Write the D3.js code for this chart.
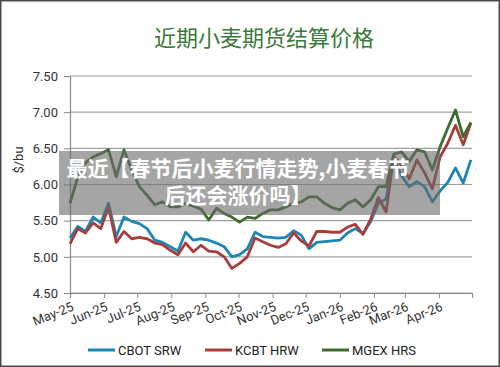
<!DOCTYPE html>
<html>
<head>
<meta charset="utf-8">
<script src="https://cdn.jsdelivr.net/npm/d3@7"></script>
<style>
  html, body { margin: 0; padding: 0; background: #fff; }
  svg { display: block; }
</style>
</head>
<body>
<svg id="chart" width="500" height="367"></svg>
<script>
// ---- data ----
const title = "近期小麦期货结算价格";
const yLabel = "$/bu";
const startDate = "2025-05-01"; // first weekly observation
const monthLabels = ["May-25","Jun-25","Jul-25","Aug-25","Sep-25","Oct-25","Nov-25","Dec-25","Jan-26","Feb-26","Mar-26","Apr-26"];
const yTicks = [4.5, 5.0, 5.5, 6.0, 6.5, 7.0, 7.5];
const seriesNames = ["CBOT SRW", "KCBT HRW", "MGEX HRS"];
const cbotSRW = [5.26,5.42,5.35,5.55,5.47,5.74,5.28,5.55,5.49,5.46,5.39,5.23,5.20,5.14,5.08,5.34,5.23,5.25,5.23,5.19,5.14,5.00,5.03,5.11,5.34,5.28,5.27,5.26,5.27,5.36,5.30,5.11,5.20,5.21,5.22,5.23,5.33,5.39,5.32,5.49,5.74,5.80,6.37,6.12,5.97,6.04,5.97,5.76,5.91,6.03,6.23,6.02,6.34];
const kcbtHRW = [5.18,5.39,5.33,5.47,5.39,5.69,5.20,5.35,5.25,5.27,5.25,5.19,5.17,5.09,5.03,5.19,5.07,5.16,5.08,5.07,5.00,4.84,4.91,5.00,5.26,5.21,5.16,5.13,5.18,5.33,5.22,5.15,5.35,5.35,5.34,5.34,5.41,5.45,5.31,5.52,5.82,5.62,6.39,6.27,6.08,6.34,6.16,5.94,6.38,6.57,6.82,6.55,6.85];
const mgexHRS = [5.74,6.10,6.30,6.38,6.43,6.48,6.11,6.48,6.20,5.97,5.85,5.72,5.76,5.69,5.69,5.74,5.70,5.66,5.51,5.67,5.60,5.55,5.48,5.55,5.53,5.60,5.65,5.65,5.69,5.74,5.76,5.83,5.83,5.74,5.68,5.65,5.74,5.79,5.69,5.79,5.97,5.97,6.42,6.45,6.32,6.48,6.45,6.20,6.52,6.78,7.03,6.66,6.86];
const overlayLines = ["最近【春节后小麦行情走势,小麦春节", "后还会涨价吗】"];

const colors = ["#1c87b4", "#a63f3c", "#3f6b2e"];

// ---- chart ----
const svg = d3.select("#chart");
const W = 500, H = 367;
svg.append("rect").attr("x",0.5).attr("y",0.5).attr("width",W-1).attr("height",H-1)
   .attr("fill","#fff").attr("stroke","#4a4a4a").attr("stroke-width",2);

const parse = d3.timeParse("%Y-%m-%d");
const d0 = parse(startDate);
const dates = cbotSRW.map((_, i) => d3.timeDay.offset(d0, 7 * i));
const tickDates = d3.timeMonth.range(d0, d3.timeMonth.offset(d0, 13));

const x = d3.scaleTime().domain([d0, d3.timeMonth.offset(d0, 12)]).range([70, 472]);
const y = d3.scaleLinear().domain([4.5, 7.5]).range([293, 76]);

// title
svg.append("text").attr("x", 264).attr("y", 46).attr("text-anchor","middle")
  .attr("font-family","'Noto Sans CJK SC', sans-serif").attr("font-size", 22)
  .attr("fill","#3a7a3a").text(title);

// gridlines
svg.append("g").selectAll("line").data(yTicks).join("line")
  .attr("x1", 70).attr("x2", 472)
  .attr("y1", d => y(d)).attr("y2", d => y(d))
  .attr("stroke", "#a0a0a0").attr("stroke-width", 1.2);

// y axis
const yAxis = svg.append("g").attr("transform","translate(70,0)")
  .call(d3.axisLeft(y).tickValues(yTicks).tickFormat(d3.format(".2f")).tickSize(6).tickPadding(6));
yAxis.select(".domain").attr("stroke","#8a8a8a").attr("stroke-width",1.2);
yAxis.selectAll(".tick line").attr("stroke","#8a8a8a");
yAxis.selectAll("text").attr("font-family","Roboto, sans-serif").attr("font-size",13).attr("fill","#333");

// y label
svg.append("text").attr("transform","translate(23,160) rotate(-90)").attr("text-anchor","middle")
  .attr("font-family","Roboto, sans-serif").attr("font-size",13).attr("fill","#333").text(yLabel);

// x axis
const xAxis = svg.append("g").attr("transform","translate(0,293)")
  .call(d3.axisBottom(x).tickValues(tickDates).tickSize(5).tickFormat((d, i) => monthLabels[i] || ""));
xAxis.select(".domain").attr("stroke","#8a8a8a").attr("stroke-width",1.2);
xAxis.selectAll(".tick line").attr("stroke","#8a8a8a");
xAxis.selectAll("text")
  .attr("font-family","Roboto, sans-serif").attr("font-size",13).attr("fill","#333")
  .attr("text-anchor","end").attr("dy", 0).attr("y", 0)
  .attr("transform","translate(4,17) rotate(-22)");

// lines
const series = [cbotSRW, kcbtHRW, mgexHRS];
const line = d3.line().x((d, i) => x(dates[i])).y(d => y(d));
svg.append("g").selectAll("path").data(series).join("path")
  .attr("d", d => line(d)).attr("fill","none")
  .attr("stroke", (d, i) => colors[i]).attr("stroke-width", 2.8)
  .attr("stroke-linejoin","round");

// legend
const legendX = [88, 205, 322];
const lg = svg.append("g").selectAll("g").data(seriesNames).join("g")
  .attr("transform", (d, i) => `translate(${legendX[i]},350)`);
lg.append("line").attr("x1",0).attr("x2",27).attr("stroke",(d,i)=>colors[i]).attr("stroke-width",3);
lg.append("text").attr("x",30).attr("y",5).attr("font-family","Roboto, sans-serif")
  .attr("font-size",13).attr("fill","#222").text(d => d);

// overlay banner
svg.append("rect").attr("x",59).attr("y",151).attr("width",381).attr("height",64)
  .attr("fill","rgba(105,105,105,0.6)");
svg.append("g").selectAll("text").data(overlayLines).join("text")
  .attr("x", 238).attr("y", (d, i) => 176 + i * 27).attr("text-anchor","middle")
  .attr("font-family","'Noto Sans CJK SC', sans-serif").attr("font-weight",700)
  .attr("font-size",21).attr("fill","#fff").text(d => d);
</script>
</body>
</html>
